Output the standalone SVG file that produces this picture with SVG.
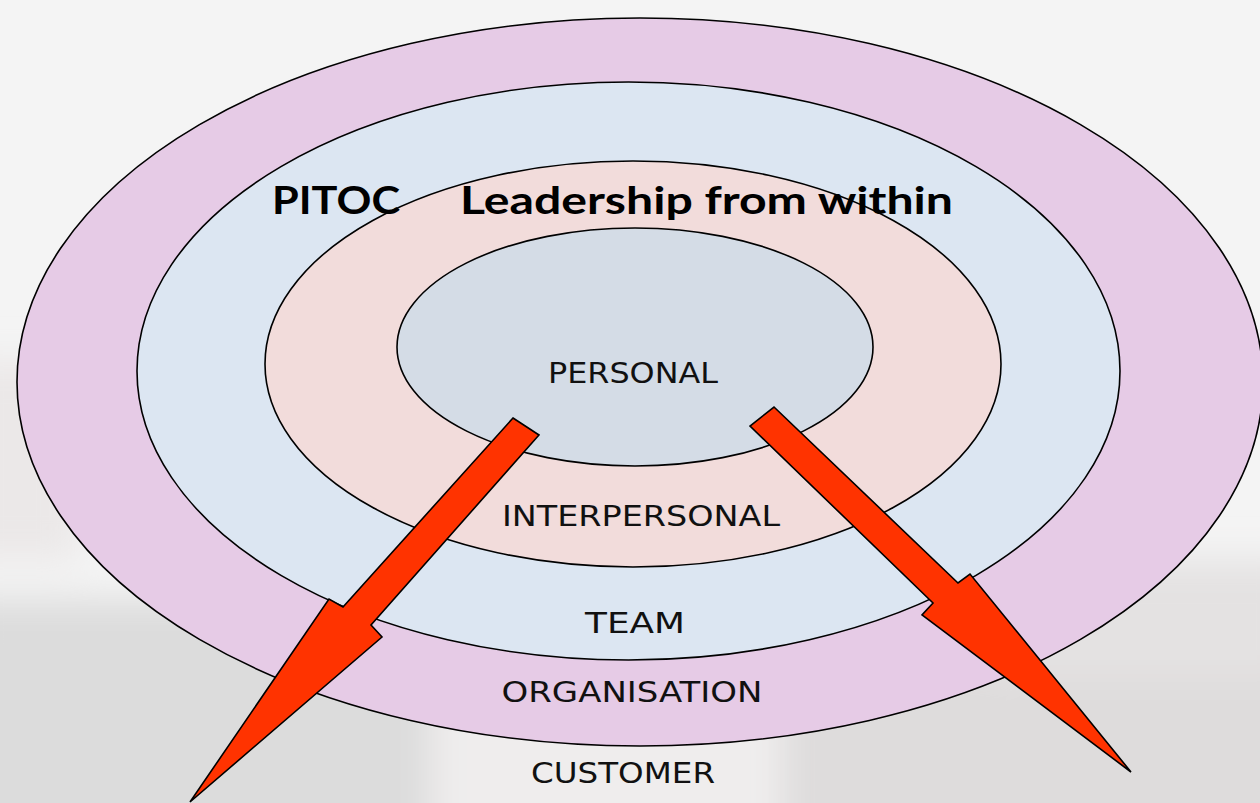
<svg xmlns="http://www.w3.org/2000/svg" width="1260" height="803" viewBox="0 0 1260 803">
  <defs>
    <filter id="blur" x="-20%" y="-20%" width="140%" height="140%">
      <feGaussianBlur stdDeviation="18"/>
    </filter>
    <style>
      .ring { stroke: #000; stroke-width: 1.6; }
      .arrow { fill: #ff3300; stroke: #000; stroke-width: 1.6; stroke-linejoin: miter; }
      .lbl { font-family: "DejaVu Sans", "Liberation Sans", sans-serif; font-size: 29px; fill: #111; text-anchor: middle; }
      .title { font-family: Lato, "Open Sans", "Liberation Sans", sans-serif; font-weight: 700; font-size: 38px; fill: #000; }
    </style>
  </defs>

  <g id="background">
    <rect x="0" y="0" width="1260" height="803" fill="#f4f4f4"/>
    <g filter="url(#blur)">
      <rect x="-40" y="600" width="470" height="260" fill="#dcdcdc"/>
      <rect x="430" y="620" width="340" height="240" fill="#efeded"/>
      <rect x="780" y="660" width="560" height="200" fill="#dedcdc"/>
      <rect x="1000" y="560" width="300" height="120" fill="#e4e2e2"/>
      <rect x="-40" y="360" width="120" height="200" fill="#ebe8e8"/>
    </g>
  </g>

  <g id="customer">
    <text class="lbl" x="623" y="783" textLength="184" lengthAdjust="spacingAndGlyphs">CUSTOMER</text>
  </g>

  <g id="organisation">
    <ellipse class="ring" cx="640" cy="382" rx="623" ry="364" fill="#e6cbe6"/>
    <text class="lbl" x="632" y="702" textLength="261" lengthAdjust="spacingAndGlyphs">ORGANISATION</text>
  </g>

  <g id="team">
    <ellipse class="ring" cx="628.5" cy="371" rx="491.5" ry="289" fill="#dce6f2"/>
    <text class="lbl" x="635" y="633" textLength="100" lengthAdjust="spacingAndGlyphs">TEAM</text>
  </g>

  <g id="interpersonal">
    <ellipse class="ring" cx="633" cy="364" rx="368" ry="203" fill="#f2dcdb"/>
    <text class="lbl" x="641" y="526" textLength="278" lengthAdjust="spacingAndGlyphs">INTERPERSONAL</text>
  </g>

  <g id="personal">
    <ellipse class="ring" cx="635" cy="347" rx="238" ry="119" fill="#d4dce6"/>
    <text class="lbl" x="633" y="383" textLength="170" lengthAdjust="spacingAndGlyphs">PERSONAL</text>
  </g>

  <g id="title">
    <text class="title" x="272" y="214" textLength="128" lengthAdjust="spacingAndGlyphs">PITOC</text>
    <text class="title" x="460" y="214" textLength="493" lengthAdjust="spacingAndGlyphs">Leadership from within</text>
  </g>

  <g id="connectors">
    <polygon class="arrow" points="513,418 539,435 371,625 382,637 190,802 329,599 343,607"/>
    <polygon class="arrow" points="774,407 958,583 970,574 1131,772 922,615 933,603 750,426"/>
  </g>
</svg>
